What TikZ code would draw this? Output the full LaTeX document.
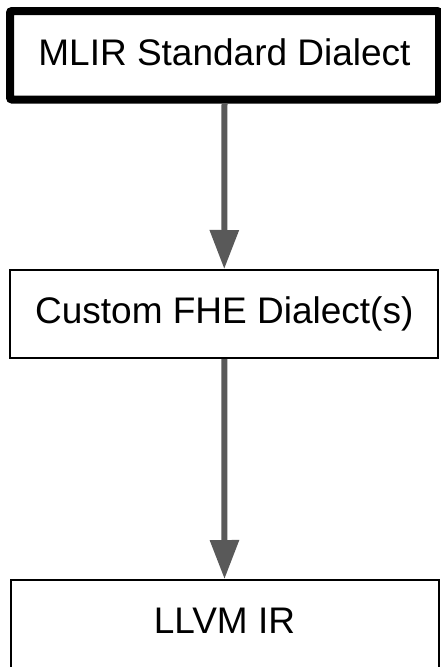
\documentclass[tikz,border=0pt]{standalone}
\usepackage{fontspec}
\setmainfont{Liberation Sans}
\usetikzlibrary{arrows.meta}
\definecolor{flowgray}{HTML}{595959}
\tikzset{
  x=1pt, y=1pt,
  stage/.style={draw=black, line width=2pt, minimum width=428pt, minimum height=88pt,
    inner sep=0pt, text height=27pt, text depth=7.5pt, font=\fontsize{37}{44}\selectfont},
  mainstage/.style={stage, line width=8pt, rounded corners=2pt, minimum width=429pt, minimum height=88.5pt},
  flow/.style={draw=flowgray, line width=6pt,
    -{Triangle[width=28pt,length=39pt]}, shorten >=0pt}
}
\begin{document}
\begin{tikzpicture}
  \useasboundingbox (0,0) rectangle (440,-667);
  % three lowering stages, top to bottom
  \node[mainstage] (std) at (224.5,-55.25) {MLIR Standard Dialect};
  \node[stage] (fhe) at (224.25,-314) {Custom FHE Dialect(s)};
  \node[stage] (llvm) at (224.5,-624) {LLVM IR};
  % lowering arrows
  \draw[flow] (std.south) -- (fhe.north);
  \draw[flow] (fhe.south) -- (llvm.north);
\end{tikzpicture}
\end{document}
